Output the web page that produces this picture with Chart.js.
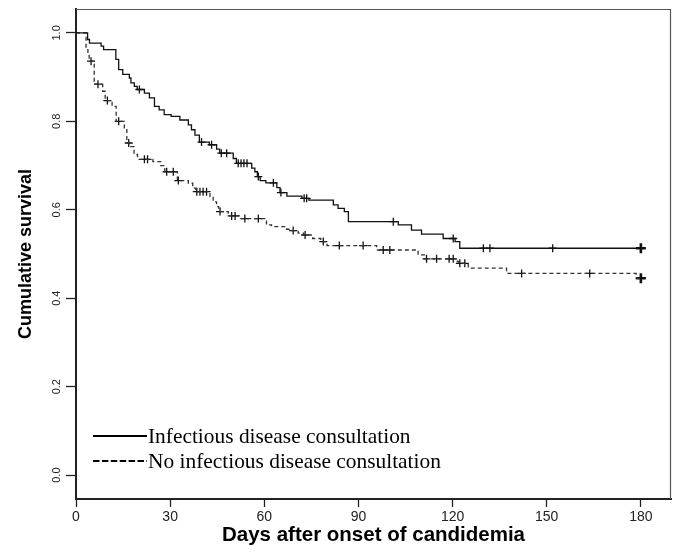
<!DOCTYPE html>
<html><head><meta charset="utf-8">
<script src="https://cdn.jsdelivr.net/npm/chart.js@4/dist/chart.umd.min.js"></script>
<style>html,body{margin:0;padding:0;background:#fff}#wrap{width:673px;height:555px;position:relative}</style>
</head><body><div id="wrap"><canvas id="c" width="673" height="555"></canvas></div>
<script>
const xTicks = [0, 30, 60, 90, 120, 150, 180];
const yTicks = [0, 0.2, 0.4, 0.6, 0.8, 1.0];
const xTitle = 'Days after onset of candidemia';
const yTitle = 'Cumulative survival';
const seriesLabels = ['Infectious disease consultation', 'No infectious disease consultation'];

// Infectious disease consultation (solid)
const idDays = [0, 3.7, 4.3, 8.0, 8.8, 12.7, 13.6, 14.9, 17.0, 17.5, 18.6, 19.5, 21.8, 23.4, 25.0, 26.5, 28.1, 30.3, 33.1, 35.8, 36.8, 37.9, 39.3, 42.5, 44.8, 45.8, 50.1, 51.1, 56.0, 57.0, 57.8, 58.7, 60.5, 64.0, 65.0, 67.2, 72.0, 74.2, 82.0, 83.5, 85.5, 86.8, 102.7, 106.9, 110.1, 117.0, 120.8, 122.3, 180];
const idSurv = [1.0, 0.985, 0.977, 0.970, 0.962, 0.940, 0.917, 0.906, 0.898, 0.887, 0.879, 0.872, 0.864, 0.853, 0.834, 0.826, 0.815, 0.811, 0.803, 0.792, 0.781, 0.769, 0.753, 0.747, 0.737, 0.728, 0.716, 0.705, 0.694, 0.686, 0.675, 0.666, 0.661, 0.650, 0.639, 0.631, 0.626, 0.622, 0.611, 0.603, 0.596, 0.573, 0.566, 0.554, 0.545, 0.535, 0.528, 0.513, 0.513];
const idCensorDays = [20.2, 40.0, 43.2, 46.3, 48.0, 51.7, 52.6, 53.5, 54.5, 58.1, 62.9, 65.3, 72.7, 73.5, 101.1, 120.2, 129.8, 131.9, 151.9, 180];

// No infectious disease consultation (dashed)
const noDays = [0, 3.2, 3.8, 4.2, 5.8, 8.5, 9.3, 11.5, 12.8, 15.4, 16.2, 17.5, 18.5, 19.6, 24.5, 27.0, 28.3, 32.3, 35.8, 37.2, 38.2, 42.7, 43.7, 44.8, 45.5, 48.5, 52.5, 60.7, 62.3, 67.1, 68.5, 70.8, 72.5, 75.4, 78.0, 80.0, 95.8, 109.0, 111.0, 121.5, 122.0, 125.0, 137.2, 178.5, 180];
const noSurv = [1.0, 0.966, 0.954, 0.936, 0.884, 0.868, 0.847, 0.834, 0.800, 0.785, 0.751, 0.743, 0.725, 0.714, 0.709, 0.700, 0.686, 0.666, 0.660, 0.649, 0.641, 0.630, 0.618, 0.607, 0.596, 0.586, 0.580, 0.566, 0.562, 0.556, 0.553, 0.547, 0.543, 0.535, 0.528, 0.519, 0.509, 0.498, 0.489, 0.483, 0.479, 0.468, 0.456, 0.445, 0.445];
const noCensorDays = [4.8, 7.0, 10.0, 13.6, 16.8, 21.8, 22.8, 28.9, 31.0, 32.6, 38.5, 39.5, 40.5, 41.6, 45.9, 49.6, 50.7, 53.8, 58.1, 69.2, 73.0, 78.8, 83.9, 91.5, 97.9, 100.0, 111.7, 114.9, 118.9, 120.2, 122.3, 123.9, 142.0, 163.7, 180];

function stepPoints(d, s) { return d.map((x, i) => ({ x: x, y: s[i] })); }
function survAt(d, s, t) { let v = s[0]; for (let i = 0; i < d.length; i++) { if (d[i] <= t) v = s[i]; } return v; }
function censorPoints(cd, d, s) { return cd.map(t => ({ x: t, y: survAt(d, s, t) })); }

const crossRadius = ctx => (ctx.raw && ctx.raw.x >= 180 ? 5 : 4);
const crossWidth = ctx => (ctx.raw && ctx.raw.x >= 180 ? 2.6 : 1.3);

const boxPlugin = {
  id: 'box',
  afterDatasetsDraw(chart) {
    const { ctx, chartArea: a } = chart;
    ctx.save();
    ctx.strokeStyle = '#555';
    ctx.lineWidth = 1.2;
    ctx.beginPath();
    ctx.moveTo(a.left, a.top + 0.5);
    ctx.lineTo(a.right - 0.5, a.top + 0.5);
    ctx.lineTo(a.right - 0.5, a.bottom);
    ctx.stroke();
    ctx.restore();
  }
};

const legendPlugin = {
  id: 'kmLegend',
  afterDraw(chart) {
    const { ctx, chartArea: a } = chart;
    const rows = [
      { ds: chart.data.datasets[0], ly: a.bottom - 63, ty: a.bottom - 56, dash: [] },
      { ds: chart.data.datasets[1], ly: a.bottom - 38, ty: a.bottom - 31, dash: [6.5, 2.4] }
    ];
    ctx.save();
    rows.forEach(r => {
      ctx.strokeStyle = '#000';
      ctx.lineWidth = 2;
      ctx.setLineDash(r.dash);
      ctx.beginPath();
      ctx.moveTo(a.left + 17, r.ly);
      ctx.lineTo(a.left + 71, r.ly);
      ctx.stroke();
      ctx.setLineDash([]);
      ctx.fillStyle = '#000';
      ctx.font = '21.4px "Liberation Serif", "Times New Roman", serif';
      ctx.textBaseline = 'alphabetic';
      ctx.textAlign = 'left';
      ctx.fillText(r.ds.label, a.left + 72, r.ty);
    });
    ctx.restore();
  }
};

new Chart(document.getElementById('c'), {
  type: 'line',
  data: {
    datasets: [
      { label: seriesLabels[0], data: stepPoints(idDays, idSurv), stepped: true, borderColor: '#111', borderWidth: 1.3, pointRadius: 0, fill: false },
      { label: seriesLabels[1], data: stepPoints(noDays, noSurv), stepped: true, borderColor: '#333', borderWidth: 1.3, borderDash: [4, 3], pointRadius: 0, fill: false },
      { label: 'censorID', data: censorPoints(idCensorDays, idDays, idSurv), showLine: false, pointStyle: 'cross', pointRadius: crossRadius, pointBorderWidth: crossWidth, pointBorderColor: '#111', pointBackgroundColor: '#111' },
      { label: 'censorNo', data: censorPoints(noCensorDays, noDays, noSurv), showLine: false, pointStyle: 'cross', pointRadius: crossRadius, pointBorderWidth: crossWidth, pointBorderColor: '#111', pointBackgroundColor: '#111' }
    ]
  },
  options: {
    responsive: false,
    devicePixelRatio: 1,
    animation: false,
    layout: { autoPadding: false, padding: { top: 9, right: 2, left: 0, bottom: 0 } },
    plugins: { legend: { display: false }, tooltip: { enabled: false } },
    scales: {
      x: {
        type: 'linear', min: 0, max: 189.6,
        afterBuildTicks: s => { s.ticks = xTicks.map(v => ({ value: v })); },
        afterFit: s => { s.height = 56; s.paddingLeft = 0; s.paddingRight = 0; },
        ticks: { font: { family: 'Liberation Sans', size: 14 }, color: '#222', padding: 2, maxRotation: 0, autoSkip: false },
        grid: { drawOnChartArea: false, drawTicks: true, tickLength: 8, tickWidth: 1.3, tickColor: '#222' },
        border: { display: true, width: 2, color: '#222' },
        title: { display: true, text: xTitle, color: '#000', font: { family: 'Liberation Sans', size: 20.5, weight: 'bold' }, padding: { top: 0, bottom: 7 } }
      },
      y: {
        type: 'linear', min: -0.054, max: 1.054,
        afterBuildTicks: s => { s.ticks = yTicks.map(v => ({ value: v })); },
        afterFit: s => { s.width = 76; s.paddingTop = 0; s.paddingBottom = 0; },
        ticks: { font: { family: 'Liberation Sans', size: 11 }, color: '#222', padding: 1, minRotation: 90, maxRotation: 90, crossAlign: 'center', autoSkip: false, callback: v => Number(v).toFixed(1) },
        grid: { drawOnChartArea: false, drawTicks: true, tickLength: 10, tickWidth: 1.3, tickColor: '#222' },
        border: { display: true, width: 2, color: '#222' },
        title: { display: true, text: yTitle, color: '#000', font: { family: 'Liberation Sans', size: 18, weight: 'bold' }, padding: { top: 15, bottom: 0 } }
      }
    }
  },
  plugins: [boxPlugin, legendPlugin]
});
</script>
</body></html>
